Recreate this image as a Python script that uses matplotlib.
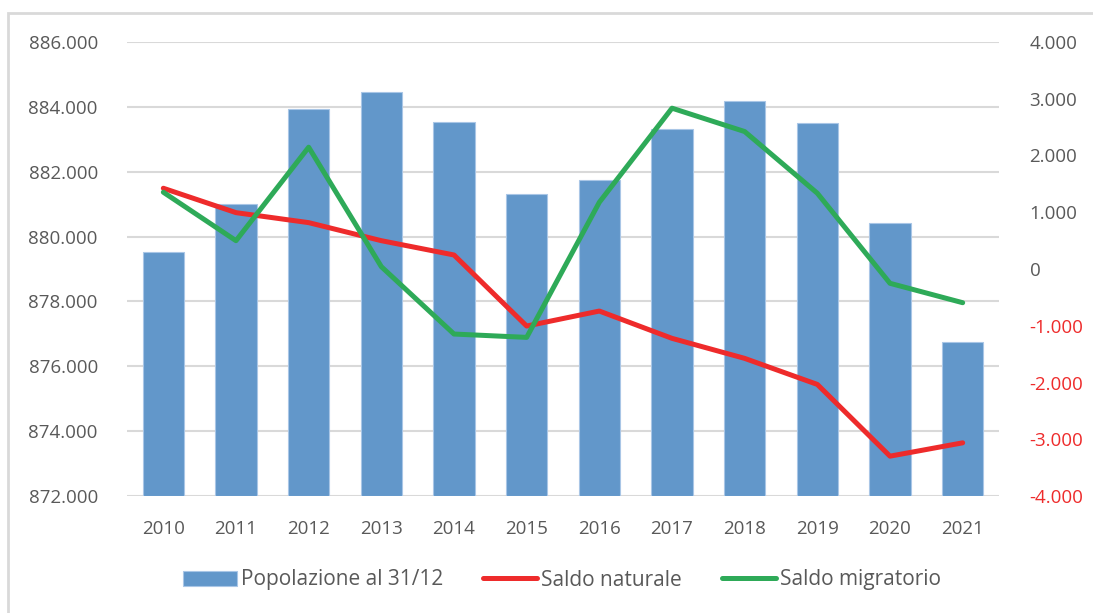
import numpy as np
import matplotlib
matplotlib.use("Agg")
import matplotlib.pyplot as plt
from matplotlib.patches import Rectangle
from matplotlib.ticker import FuncFormatter

plt.rcParams['font.family'] = ['Open Sans', 'DejaVu Sans']

anni = ['2010', '2011', '2012', '2013', '2014', '2015',
        '2016', '2017', '2018', '2019', '2020', '2021']
popolazione = [879530, 881000, 883945, 884460, 883535, 881300,
               881735, 883330, 884175, 883510, 880405, 876745]
saldo_naturale = [1423, 993, 817, 499, 247, -1005,
                  -741, -1222, -1575, -2034, -3298, -3063]
saldo_migratorio = [1353, 499, 2146, 41, -1146, -1205,
                    1176, 2834, 2422, 1335, -252, -594]

col_bar = '#6297CA'
col_red = '#EE2B2B'
col_green = '#2EAA58'
col_txt = '#595959'
col_grid = '#D9D9D9'


def fmt_it(v, pos=None):
    v = int(round(v))
    if v == 0:
        return '0'
    s = f'{abs(v):,}'.replace(',', '.')
    return ('-' if v < 0 else '') + s


fig = plt.figure(figsize=(10.93, 6.13), dpi=100)
# chart frame (only left/top visible in the reference)
fig.patches.append(Rectangle((8 / 1093, -0.1), 1.2, 1 - 13 / 613 + 0.1,
                             transform=fig.transFigure, fill=False,
                             edgecolor=col_grid, linewidth=2))

ax = fig.add_axes([127 / 1093, 1 - 496 / 613, 872 / 1093, 454 / 613])
x = np.arange(len(anni))

ax.bar(x, np.array(popolazione) - 872000, bottom=872000, width=0.57,
       color=col_bar, edgecolor='#A9C6E6', linewidth=0.8, zorder=2,
       label='Popolazione al 31/12')
ax.set_xlim(-0.5, len(anni) - 0.5)
ax.set_ylim(872000, 886000)
ax.set_yticks(np.arange(872000, 886001, 2000))
ax.yaxis.set_major_formatter(FuncFormatter(fmt_it))
ax.set_xticks(x)
ax.set_xticklabels(anni)
ax.grid(axis='y', color=col_grid, linewidth=1.5, zorder=0)
ax.set_axisbelow(True)
for s in ax.spines.values():
    s.set_visible(False)
ax.tick_params(axis='both', length=0, labelsize=13.5, colors=col_txt)
ax.tick_params(axis='y', pad=21)
ax.tick_params(axis='x', pad=17)

ax2 = ax.twinx()
ax2.plot(x, saldo_naturale, color=col_red, linewidth=3.6, zorder=3,
         solid_capstyle='round', label='Saldo naturale')
ax2.plot(x, saldo_migratorio, color=col_green, linewidth=3.6, zorder=4,
         solid_capstyle='round', label='Saldo migratorio')
ax2.set_ylim(-4000, 4000)
ax2.set_yticks(np.arange(-4000, 4001, 1000))
ax2.yaxis.set_major_formatter(FuncFormatter(fmt_it))
for s in ax2.spines.values():
    s.set_visible(False)
ax2.tick_params(axis='y', length=0, labelsize=13.5, colors=col_txt, pad=22)
for lab, val in zip(ax2.get_yticklabels(), ax2.get_yticks()):
    if val < 0:
        lab.set_color(col_red)

h1, l1 = ax.get_legend_handles_labels()
h2, l2 = ax2.get_legend_handles_labels()
leg = fig.legend(h1 + h2, l1 + l2, loc='center', bbox_to_anchor=(0.514, 1 - 580 / 613),
                 ncol=3, frameon=False, fontsize=15, handlelength=2.6,
                 handleheight=0.7, handletextpad=0.2, columnspacing=1.9,
                 borderpad=0.2)
for t in leg.get_texts():
    t.set_color(col_txt)

fig.savefig('out.png', dpi=100)
